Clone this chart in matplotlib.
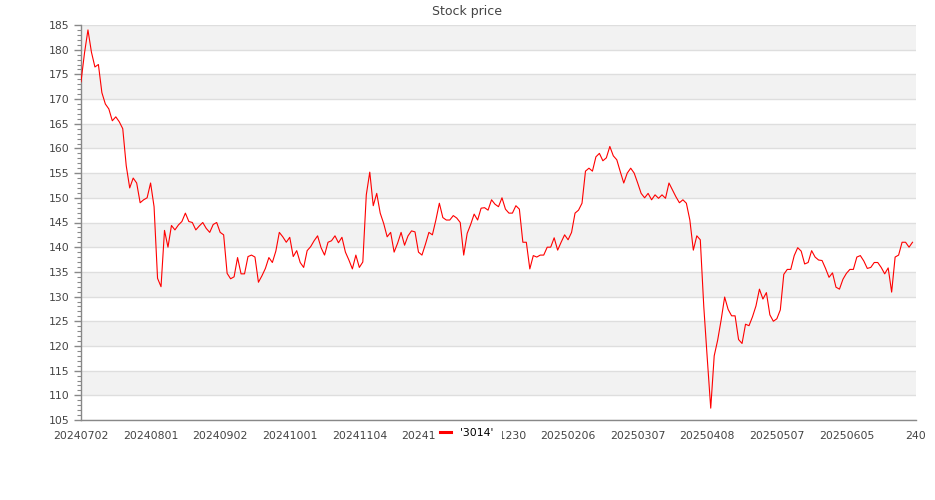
import numpy as np
import matplotlib
matplotlib.use("Agg")
import matplotlib.pyplot as plt
from matplotlib.lines import Line2D
from matplotlib.patches import Rectangle

# daily closing prices
prices = [
    173.5, 179.3, 184.0, 179.5, 176.5, 177.0, 171.3, 169.0, 168.0, 165.6,
    166.4, 165.4, 164.0, 156.5, 152.0, 154.0, 153.0, 149.0, 149.6, 150.0,
    153.0, 148.2, 133.7, 132.0, 143.4, 140.0, 144.4, 143.5, 144.5, 145.2,
    146.9, 145.2, 145.0, 143.5, 144.3, 145.0, 143.8, 143.0, 144.6, 145.0,
    143.0, 142.5, 134.7, 133.6, 134.0, 137.9, 134.6, 134.6, 138.1, 138.4,
    138.0, 132.9, 134.2, 135.7, 137.9, 136.9, 139.2, 143.0, 142.1, 141.0,
    142.0, 138.1, 139.3, 136.9, 135.9, 139.3, 140.1, 141.3, 142.3, 139.9,
    138.4, 141.0, 141.3, 142.3, 140.9, 142.0, 139.0, 137.4, 135.6, 138.4,
    135.9, 137.0, 150.6, 155.2, 148.4, 150.9, 146.9, 144.8, 142.1, 143.0,
    139.0, 140.8, 143.0, 140.4, 142.3, 143.3, 143.1, 139.0, 138.4, 140.6,
    143.0, 142.5, 145.5, 148.9, 146.0, 145.5, 145.5, 146.4, 145.9, 145.0,
    138.4, 142.8, 144.6, 146.7, 145.5, 147.9, 148.0, 147.5, 149.6, 148.7,
    148.2, 150.0, 147.7, 146.9, 146.9, 148.4, 147.7, 141.0, 141.0, 135.6,
    138.3, 138.0, 138.4, 138.4, 140.0, 140.0, 141.9, 139.4, 141.0, 142.5,
    141.5, 143.0, 146.9, 147.5, 148.9, 155.4, 156.0, 155.4, 158.3, 159.0,
    157.5, 158.1, 160.4, 158.5, 157.7, 155.3, 153.0, 155.0, 156.0, 155.0,
    153.0, 150.9, 150.0, 150.9, 149.6, 150.6, 149.9, 150.6, 149.9, 153.0,
    151.6, 150.2, 149.0, 149.6, 148.9, 145.5, 139.4, 142.3, 141.5, 128.0,
    117.5, 107.4, 118.0, 121.2, 125.3, 129.9, 127.4, 126.1, 126.1, 121.3,
    120.5, 124.4, 124.1, 125.9, 128.1, 131.5, 129.5, 130.8, 126.3, 125.0,
    125.5, 127.3, 134.5, 135.5, 135.5, 138.3, 139.9, 139.2, 136.6, 136.9,
    139.3, 138.0, 137.4, 137.3, 135.7, 133.9, 134.8, 131.9, 131.5, 133.5,
    134.7, 135.5, 135.5, 138.0, 138.3, 137.2, 135.7, 135.9, 136.9, 136.9,
    135.9, 134.6, 135.8, 130.9, 138.0, 138.4, 141.0, 141.0, 140.0, 141.0,
]

tick_pos = [0, 20, 40, 60, 80, 100, 120, 140, 160, 180, 200, 220, 240]
tick_labels = ['20240702', '20240801', '20240902', '20241001', '20241104',
               '20241202', '20241230', '20250206', '20250307', '20250408',
               '20250507', '20250605', '240']
series_name = "'3014'"

x = np.arange(len(prices))

W, H = 935, 500
fig = plt.figure(figsize=(W / 100, H / 100), dpi=100)
ax = fig.add_axes([81 / W, 80 / H, 835 / W, 395 / H])

ax.set_xlim(0, 240)
ax.set_ylim(105, 185)

# alternating grey bands between gridlines
yticks = np.arange(105, 186, 5)
for lo in yticks[1::2]:
    ax.axhspan(lo, lo + 5, color='#f2f2f2', zorder=0, lw=0)
for y in yticks:
    ax.axhline(y, color='#dedede', lw=1.0, zorder=1)

ax.plot(x, prices, color='red', lw=0.8, zorder=3)

ax.set_yticks(yticks)
ax.set_yticks(np.arange(105, 186, 1), minor=True)
ax.set_xticks(tick_pos)
ax.set_xticklabels(tick_labels)

ax.tick_params(axis='y', which='major', length=5, width=1, color='#888888',
               labelsize=7.8, labelcolor='#444444', pad=3)
ax.tick_params(axis='y', which='minor', length=3, width=0.8, color='#888888')
ax.tick_params(axis='x', length=0, labelsize=7.8, labelcolor='#444444', pad=8)

for side in ['top', 'right']:
    ax.spines[side].set_visible(False)
for side in ['left', 'bottom']:
    ax.spines[side].set_color('#888888')
    ax.spines[side].set_linewidth(1.0)

fig.text(0.5, 1 - 12 / H, 'Stock price', ha='center', va='center',
         fontsize=9, color='#444444')

# white box behind the legend, it hides part of the tick labels
fig.patches.append(Rectangle((436 / W, 1 - 443 / H), 66 / W, 19 / H,
                             transform=fig.transFigure, facecolor='white',
                             edgecolor='none', zorder=4))

handle = Line2D([], [], color='red', lw=2.2)
leg = fig.legend([handle], [series_name], loc='center',
                 bbox_to_anchor=(466.5 / W, 1 - 433 / H), frameon=False,
                 handlelength=1.0, handletextpad=0.8, borderpad=0.3,
                 fontsize=7.8)
leg.set_zorder(5)

fig.savefig('out.png', dpi=100)
